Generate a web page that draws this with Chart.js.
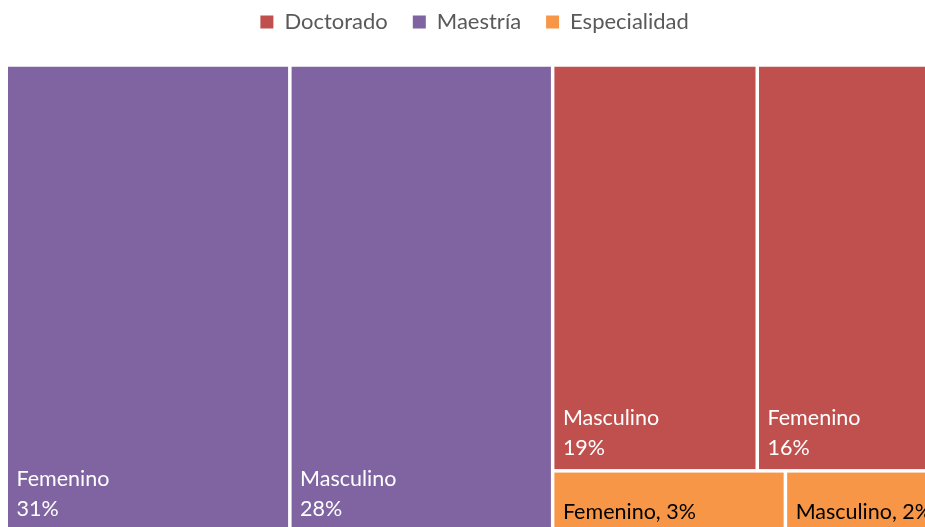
<!DOCTYPE html>
<html><head><meta charset="utf-8">
<script src="https://cdn.jsdelivr.net/npm/chart.js@4.4.1/dist/chart.umd.min.js"></script>
<style>html,body{margin:0;padding:0;background:#fff;overflow:hidden}#wrap{width:930px;height:532px;position:relative}</style>
</head><body><div id="wrap"><canvas id="c"></canvas></div>
<script>
// ---- data ----
const groupNames = ['Doctorado', 'Maestría', 'Especialidad'];
const groupColors = ['#C0504D', '#8064A2', '#F79646'];
const groupTextColors = ['#ffffff', '#ffffff', '#000000'];
const doctoradoLabels = ['Masculino', 'Femenino'];
const doctoradoValues = [19.25, 16.25];
const maestriaLabels = ['Femenino', 'Masculino'];
const maestriaValues = [30.7, 28.45];
const especialidadLabels = ['Femenino', 'Masculino'];
const especialidadValues = [3.3, 2.05];

const groupLabels = [doctoradoLabels, maestriaLabels, especialidadLabels];
const groupValues = [doctoradoValues, maestriaValues, especialidadValues];
const sum = a => a.reduce((s, v) => s + v, 0);
const total = sum(groupValues.map(sum));

// ---- treemap layout in data units (x: 0..total, y: 0..1) ----
function layoutCells() {
  const order = groupNames.map((n, i) => i).sort((a, b) => sum(groupValues[b]) - sum(groupValues[a]));
  const cells = [];
  const first = order[0];
  let x = 0;
  groupValues[first].forEach((v, j) => {
    cells.push({ g: first, j, x0: x, x1: x + v, y0: 0, y1: 1 });
    x += v;
  });
  const restTotal = total - sum(groupValues[first]);
  const colW = total - x;
  let yTop = 1;
  order.slice(1).forEach(g => {
    const gs = sum(groupValues[g]);
    const h = gs / restTotal;
    let xx = x;
    groupValues[g].forEach((v, j) => {
      const w = v / gs * colW;
      cells.push({ g, j, x0: xx, x1: xx + w, y0: yTop - h, y1: yTop });
      xx += w;
    });
    yTop -= h;
  });
  return cells;
}
const cells = layoutCells();

const treemapPlugin = {
  id: 'treemapCells',
  afterDatasetsDraw(chart) {
    const { ctx, scales: { x, y } } = chart;
    const gap = 1.75;
    ctx.save();
    cells.forEach(c => {
      const l = x.getPixelForValue(c.x0) + gap;
      const r = x.getPixelForValue(c.x1) - gap;
      const t = y.getPixelForValue(c.y1) + gap;
      const b = y.getPixelForValue(c.y0) - gap;
      ctx.fillStyle = groupColors[c.g];
      ctx.fillRect(l, t, r - l, b - t);
      const name = groupLabels[c.g][c.j];
      const pct = Math.round(groupValues[c.g][c.j] / total * 100) + '%';
      ctx.fillStyle = groupTextColors[c.g];
      ctx.font = '21.5px Lato, Carlito, Calibri, sans-serif';
      ctx.textBaseline = 'alphabetic';
      ctx.textAlign = 'left';
      const tx = l + 8.5;
      if (b - t > 90) {
        ctx.fillText(name, tx, b - 14 - 30);
        ctx.fillText(pct, tx, b - 14);
      } else {
        ctx.fillText(name + ', ' + pct, tx, b - 11);
      }
    });
    ctx.restore();
  }
};

const legendTweak = {
  id: 'legendTweak',
  beforeInit(chart) {
    const lg = chart.legend;
    const fit = lg.fit;
    lg.fit = function () { fit.call(this); this.height += 22; };
    const draw = lg.draw;
    lg.draw = function () {
      const ctx = this.ctx;
      ctx.save();
      ctx.translate(6.5, 0);
      draw.call(this);
      ctx.restore();
    };
  }
};

new Chart(document.getElementById('c'), {
  type: 'scatter',
  data: {
    datasets: groupNames.map((n, i) => ({
      label: n,
      data: [],
      backgroundColor: groupColors[i],
      borderColor: groupColors[i],
      borderWidth: 0
    }))
  },
  options: {
    responsive: true,
    maintainAspectRatio: false,
    animation: false,
    layout: { padding: { top: -14, left: 6.25, right: 0, bottom: 0 } },
    scales: {
      x: { type: 'linear', min: 0, max: total, display: false },
      y: { type: 'linear', min: 0, max: 1, display: false }
    },
    plugins: {
      tooltip: { enabled: false },
      legend: {
        position: 'top',
        onClick: () => {},
        labels: {
          boxWidth: 13, boxHeight: 13, padding: 25,
          color: '#595959',
          font: { family: 'Lato, Carlito, Calibri, sans-serif', size: 22 }
        }
      }
    }
  },
  plugins: [treemapPlugin, legendTweak]
});
</script></body></html>
